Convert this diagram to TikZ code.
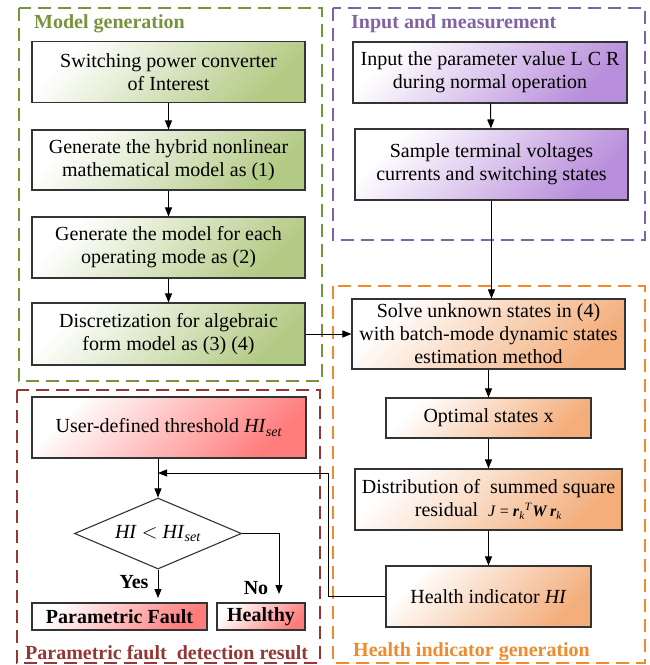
\documentclass[tikz,border=0pt]{standalone}
\usepackage{fontspec}
\setmainfont{Liberation Serif}
\usetikzlibrary{arrows.meta,shapes.geometric}
\definecolor{gencol}{HTML}{77933C}
\definecolor{gencfill}{HTML}{B3CA85}
\definecolor{inpcol}{HTML}{8064A2}
\definecolor{inpfill}{HTML}{B88DDB}
\definecolor{hicol}{HTML}{F08A2C}
\definecolor{hifill}{HTML}{F3AE7C}
\definecolor{rescol}{HTML}{953735}
\definecolor{resfill}{HTML}{FF7C7C}
\newcommand{\bvec}[1]{\textbf{\textit{#1}}}

\begin{document}
\begin{tikzpicture}[x=1pt,y=-1pt,
  font=\fontsize{20}{23}\selectfont,
  box/.style={draw=black!80,line width=1.1pt,inner sep=2pt,align=center},
  gbox/.style={box,top color=white,bottom color=gencfill,shading angle=45},
  pbox/.style={box,top color=white,bottom color=inpfill,shading angle=45},
  obox/.style={box,top color=white,bottom color=hifill,shading angle=45},
  rbox/.style={box,top color=white,bottom color=resfill,shading angle=45},
  frame/.style={dash pattern=on 13pt off 7pt,line width=2.6pt},
  ttl/.style={anchor=west,inner sep=0pt,font=\fontsize{20}{23}\selectfont\bfseries},
  arr/.style={-{Triangle[length=9pt,width=7pt]},line width=1pt},
]
\useasboundingbox (0,0) rectangle (650,665);

% dashed groups
\draw[frame,gencol] (19,8) rectangle (322,381);
\draw[frame,inpcol] (333,8) rectangle (645,240);
\draw[frame,hicol] (333,286) rectangle (645,663);
\draw[frame,rescol] (17,390) rectangle (320,663);

\node[ttl,text=gencol] (tgen) at (34,24) {Model generation};
\node[ttl,text=inpcol] (tinp) at (351,24) {Input and measurement};
\node[ttl,text=hicol] (thi) at (353,652) {Health indicator generation};
\node[ttl,text=rescol] (tres) at (25,653) {Parametric fault\ \ detection result};

% model generation
\node[gbox,minimum width=273pt,minimum height=61pt] (g1) at (168.5,72)
  {Switching power converter\\of Interest};
\node[gbox,minimum width=273pt,minimum height=60pt] (g2) at (168.5,160)
  {Generate the hybrid nonlinear\\mathematical model as (1)};
\node[gbox,minimum width=273pt,minimum height=61pt] (g3) at (168.5,247.5)
  {Generate the model for each\\operating mode as (2)};
\node[gbox,minimum width=273pt,minimum height=62pt] (g4) at (168.5,334)
  {Discretization for algebraic\\form model as (3) (4)};

% input and measurement
\node[pbox,minimum width=274pt,minimum height=61pt] (p1) at (490,72.5)
  {Input the parameter value L C R\\during normal operation};
\node[pbox,minimum width=273pt,minimum height=71pt] (p2) at (491.5,164.5)
  {Sample terminal voltages\\currents and switching states};

% health indicator
\node[obox,minimum width=273pt,minimum height=70pt] (o1) at (488.5,334)
  {Solve unknown states in (4)\\with batch-mode dynamic states\\estimation method};
\node[obox,minimum width=205pt,minimum height=40pt] (o2) at (488.5,418)
  {Optimal states x};
\node[obox,minimum width=267pt,minimum height=61pt] (o3) at (488.5,499.5)
  {Distribution of\ \ summed square\\residual\ \ {\fontsize{16}{16}\selectfont
   \textit{J} = \bvec{r}\textsubscript{\textit{k}}\textsuperscript{\textit{T}}\bvec{W}\,\bvec{r}\textsubscript{\textit{k}}}};
\node[obox,minimum width=205pt,minimum height=61pt] (o4) at (488.5,596.5)
  {Health indicator \textit{HI}};

% detection result
\node[rbox,minimum width=274pt,minimum height=61pt] (r1) at (169,427.5)
  {User-defined threshold \textit{HI}\textsubscript{\textit{set}}};
\node[draw=black!80,line width=1.1pt,fill=white,diamond,aspect=2.35,inner sep=0pt,
      minimum width=167pt,minimum height=71pt] (dm) at (158,533.5)
  {\textit{HI} $<$ \textit{HI}\textsubscript{\textit{set}}};
\node[rbox,minimum width=175pt,minimum height=27pt,font=\fontsize{20}{23}\selectfont\bfseries]
  (pf) at (119.5,616.5) {Parametric Fault};
\node[rbox,minimum width=88pt,minimum height=27pt,font=\fontsize{20}{23}\selectfont\bfseries]
  (hl) at (261,616.5) {Healthy};

\coordinate (yesend) at (158,598);
\coordinate (noend) at (279,594);
\coordinate (fb) at (158,473);
\coordinate (fbx) at (328,473);

\node[inner sep=0pt,font=\fontsize{20}{23}\selectfont\bfseries] (yes) at (134,582) {Yes};
\node[inner sep=0pt,font=\fontsize{20}{23}\selectfont\bfseries] (no) at (256,588) {No};

% connectors
\draw[arr] (g1) -- (g2);
\draw[arr] (g2) -- (g3);
\draw[arr] (g3) -- (g4);
\draw[arr] (g4.east) -- (o1.west);
\draw[arr] (p1) -- (p2);
\draw[arr] (p2.south) -- (p2.south |- o1.north);
\draw[arr] (o1) -- (o2);
\draw[arr] (o2) -- (o3);
\draw[arr] (o3) -- (o4);
\draw[arr] (r1.south -| dm.north) -- (dm.north);
\draw[arr] (o4.west) -| (fbx) -- (fb);
\draw[arr] (dm.south) -- (yesend);
\draw[arr] (dm.east) -| (noend);
\end{tikzpicture}
\end{document}
